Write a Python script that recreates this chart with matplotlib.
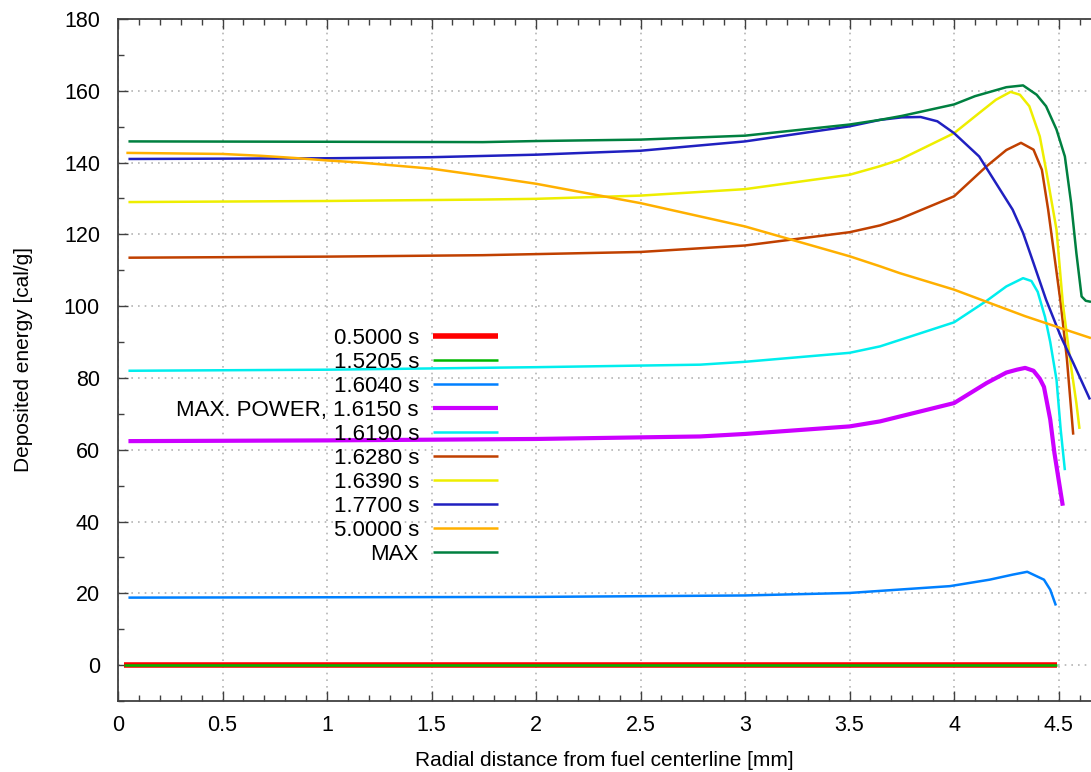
import matplotlib
matplotlib.use("Agg")
import matplotlib.pyplot as plt
from matplotlib.ticker import MultipleLocator

plt.rcParams['font.family'] = ['Liberation Sans', 'DejaVu Sans']

# Radial positions [mm] and deposited energy [cal/g] for each time step
r_0500 = [0.03, 4.49]
e_0500 = [0.0, 0.0]

r_15205 = [0.03, 4.49]
e_15205 = [0.0, 0.0]

r_16040 = [0.05, 1.0, 2.0, 3.0, 3.5, 3.98, 4.17, 4.28, 4.35, 4.43, 4.46, 4.487]
e_16040 = [18.8, 18.9, 19.0, 19.4, 20.1, 22.0, 23.8, 25.2, 26.0, 23.8, 21.0, 16.6]

r_16150 = [0.05, 1.0, 2.0, 2.785, 3.0, 3.5, 3.646, 4.0, 4.156, 4.25, 4.30, 4.34,
           4.38, 4.41, 4.43, 4.46, 4.48, 4.50, 4.52]
e_16150 = [62.4, 62.6, 63.0, 63.7, 64.4, 66.5, 67.9, 73.0, 78.6, 81.5, 82.3, 82.8,
           82.0, 79.8, 77.5, 68.4, 59.1, 51.7, 44.4]

r_16190 = [0.05, 1.0, 2.0, 2.785, 3.0, 3.5, 3.646, 4.0, 4.156, 4.25, 4.33, 4.37,
           4.40, 4.435, 4.46, 4.49, 4.51, 4.53]
e_16190 = [82.0, 82.3, 83.0, 83.7, 84.5, 87.0, 88.8, 95.5, 101.5, 105.5, 107.8, 107.0,
           104.0, 97.0, 90.0, 79.5, 65.6, 54.3]

r_16280 = [0.05, 1.0, 1.745, 2.0, 2.5, 3.0, 3.5, 3.646, 3.74, 4.0, 4.156, 4.25,
           4.32, 4.38, 4.42, 4.45, 4.48, 4.51, 4.54, 4.57]
e_16280 = [113.5, 113.8, 114.2, 114.5, 115.1, 116.9, 120.6, 122.5, 124.3, 130.6, 139.0, 143.5,
           145.5, 143.6, 138.0, 126.9, 113.9, 100.9, 85.1, 64.2]

r_16390 = [0.05, 1.0, 1.745, 2.0, 2.5, 3.0, 3.5, 3.646, 3.74, 4.0, 4.12, 4.2, 4.27,
           4.315, 4.36, 4.41, 4.44, 4.49, 4.52, 4.555, 4.585, 4.6]
e_16390 = [129.0, 129.3, 129.7, 129.9, 130.8, 132.6, 136.6, 139.0, 140.8, 148.2, 153.8, 157.5, 159.7,
           158.9, 155.7, 147.3, 138.0, 121.3, 100.9, 85.0, 73.0, 65.8]

r_17700 = [0.05, 1.0, 1.5, 2.0, 2.5, 3.0, 3.5, 3.646, 3.75, 3.84, 3.92, 4.0, 4.12,
           4.2, 4.28, 4.33, 4.38, 4.44, 4.51, 4.57, 4.65]
e_17700 = [141.0, 141.2, 141.5, 142.2, 143.3, 145.9, 150.1, 151.9, 152.6, 152.7, 151.5, 148.2, 141.7,
           134.3, 126.9, 120.4, 112.0, 101.8, 91.6, 84.2, 74.0]

r_50000 = [0.04, 0.2, 0.5, 0.68, 0.84, 1.0, 1.16, 1.5, 1.745, 2.0, 2.5, 3.0, 3.5,
           3.646, 3.74, 4.0, 4.156, 4.34, 4.53, 4.655]
e_50000 = [142.7, 142.6, 142.4, 141.9, 141.3, 140.6, 140.0, 138.3, 136.3, 134.1, 128.7, 122.2, 113.9,
           111.1, 109.2, 104.6, 101.2, 97.2, 93.5, 91.1]

r_max = [0.05, 1.0, 1.745, 2.0, 2.5, 3.0, 3.5, 3.646, 3.75, 4.0, 4.1, 4.25, 4.33,
         4.395, 4.44, 4.49, 4.53, 4.56, 4.585, 4.61, 4.63, 4.655]
e_max = [145.9, 145.8, 145.7, 146.0, 146.4, 147.5, 150.6, 151.9, 153.0, 156.2, 158.5, 161.0, 161.5,
         158.9, 155.7, 149.2, 141.7, 128.7, 114.8, 102.7, 101.5, 101.2]

labels = ["0.5000 s", "1.5205 s", "1.6040 s", "MAX. POWER, 1.6150 s", "1.6190 s",
          "1.6280 s", "1.6390 s", "1.7700 s", "5.0000 s", "MAX"]

series = [
    (r_0500, e_0500, "#ff0000", 4.0),
    (r_15205, e_15205, "#00b800", 1.8),
    (r_16040, e_16040, "#0080ff", 1.8),
    (r_16150, e_16150, "#cc00ff", 3.0),
    (r_16190, e_16190, "#00eeee", 1.8),
    (r_16280, e_16280, "#c04000", 1.8),
    (r_16390, e_16390, "#eeee00", 1.8),
    (r_17700, e_17700, "#2020c0", 1.8),
    (r_50000, e_50000, "#ffb000", 1.8),
    (r_max, e_max, "#008040", 1.8),
]

fig = plt.figure(figsize=(10.91, 7.72), dpi=100)
ax = fig.add_axes([118 / 1091, 1 - 701 / 772, 1 - 118 / 1091, (701 - 19) / 772])

for (r, e, color, lw), label in zip(series, labels):
    ax.plot(r, e, color=color, lw=lw, label=label, solid_capstyle='butt')

ax.set_xlim(0, 4.655)
ax.set_ylim(-10, 180)
ax.xaxis.set_minor_locator(MultipleLocator(0.1))
ax.yaxis.set_major_locator(MultipleLocator(20))
ax.yaxis.set_minor_locator(MultipleLocator(10))
ax.set_xticks([0, 0.5, 1, 1.5, 2, 2.5, 3, 3.5, 4, 4.5])
ax.set_xticklabels(["0", "0.5", "1", "1.5", "2", "2.5", "3", "3.5", "4", "4.5"])

ax.grid(True, which='major', color='#b4b4b4', linestyle=(0, (1, 3)), lw=1.2)
ax.set_axisbelow(True)

ax.tick_params(which='both', direction='in', top=True, right=False, color='#404040',
               labelsize=15.5, width=1)
ax.tick_params(which='major', length=7)
ax.tick_params(which='minor', length=4)
ax.tick_params(axis='x', pad=10)
ax.tick_params(axis='y', pad=13)

for side in ('left', 'bottom', 'top'):
    ax.spines[side].set_color('#404040')
    ax.spines[side].set_linewidth(1.3)
ax.spines['right'].set_visible(False)

ax.set_xlabel("Radial distance from fuel centerline [mm]", fontsize=15, labelpad=11)
ax.set_ylabel("Deposited energy [cal/g]", fontsize=15, labelpad=22)

leg = ax.legend(loc='upper right', bbox_to_anchor=(0.3906, 0.547), frameon=False,
                markerfirst=False, fontsize=16, handlelength=2.93, handletextpad=0.63,
                labelspacing=0.135, borderpad=0, borderaxespad=0)

fig.savefig("out.png", dpi=100)
